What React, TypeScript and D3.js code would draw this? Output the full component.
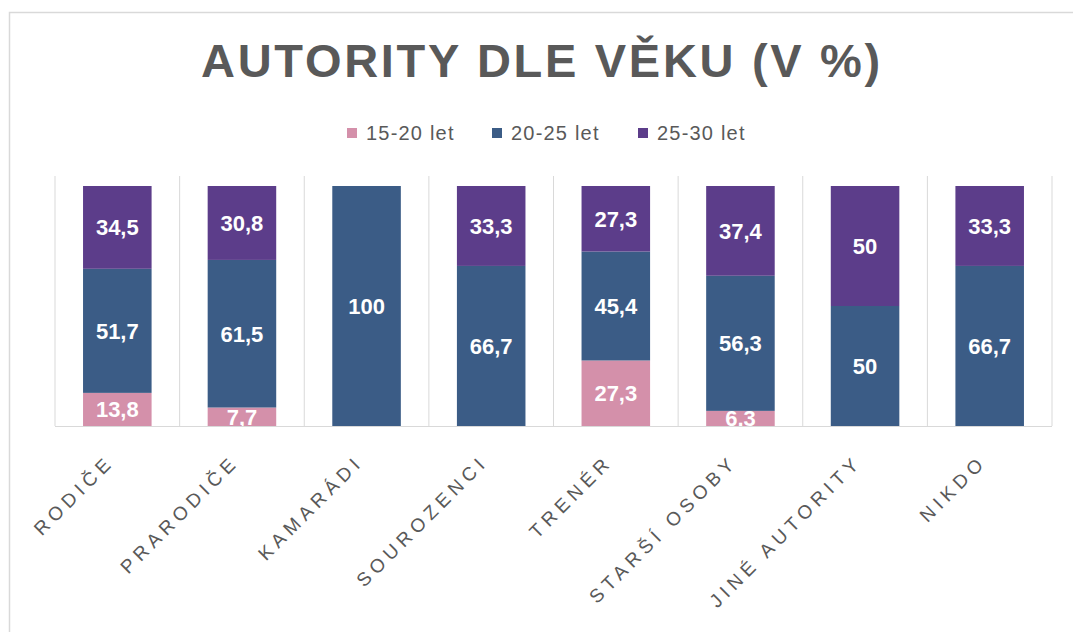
import React from "react";
import * as d3 from "d3";

const categories = ["RODIČE", "PRARODIČE", "KAMARÁDI", "SOUROZENCI", "TRENÉR", "STARŠÍ OSOBY", "JINÉ AUTORITY", "NIKDO"];
const seriesNames = ["15-20 let", "20-25 let", "25-30 let"];
const age15_20 = [13.8, 7.7, 0, 0, 27.3, 6.3, 0, 0];
const age20_25 = [51.7, 61.5, 100, 66.7, 45.4, 56.3, 50, 66.7];
const age25_30 = [34.5, 30.8, 0, 33.3, 27.3, 37.4, 50, 33.3];
const colors = ["#d490aa", "#3b5c86", "#5c3d8a"];
const title = "AUTORITY DLE VĚKU (V %)";

const W = 1073;
const H = 632;
const FONT = "'Liberation Sans', Arial, sans-serif";

export default function App() {
  const x = d3.scaleBand<string>().domain(categories).range([55, 1052]).paddingInner(0.45).paddingOuter(0.225);
  const y = d3.scaleLinear().domain([0, 100]).range([426, 186]);
  const rows = categories.map((c, i) => ({ cat: c, s0: age15_20[i], s1: age20_25[i], s2: age25_30[i] }));
  const stack = d3.stack<any>().keys(["s0", "s1", "s2"]);
  const layers = stack(rows);
  const fmt = (v: number) => String(v).replace(".", ",");
  const step = x.step();
  const x0 = x.range()[0];
  const legendX = [347, 492, 638];

  return (
    <svg width={W} height={H} style={{ position: "absolute", left: 0, top: 0, background: "#fff" }} fontFamily={FONT}>
      <defs>
        <clipPath id="plotclip">
          <rect x={40} y={170} width={1020} height={256} />
        </clipPath>
      </defs>
      <rect x={9.5} y={12.5} width={1080} height={640} fill="#fff" stroke="#d9d9d9" strokeWidth={1.5} />
      <text x={542} y={77} textAnchor="middle" fontSize={47} fontWeight="bold" fill="#595959" letterSpacing={2.7}>
        {title}
      </text>
      {seriesNames.map((s, i) => (
        <g key={s}>
          <rect x={legendX[i]} y={128} width={10} height={10} fill={colors[i]} />
          <text x={legendX[i] + 19} y={140} fontSize={20} fill="#595959" letterSpacing={1.2}>
            {s}
          </text>
        </g>
      ))}
      {d3.range(categories.length + 1).map((i) => (
        <line key={i} x1={x0 + i * step} x2={x0 + i * step} y1={176} y2={426} stroke="#d9d9d9" strokeWidth={1} />
      ))}
      <line x1={x0} x2={x0 + step * categories.length} y1={426.5} y2={426.5} stroke="#d9d9d9" strokeWidth={1.2} />
      {layers.map((layer, li) => (
        <g key={li} fill={colors[li]}>
          {layer.map((d: any, i: number) =>
            d[1] - d[0] > 0 ? (
              <rect key={i} x={x(categories[i])} width={x.bandwidth()} y={y(d[1])} height={y(d[0]) - y(d[1])} />
            ) : null
          )}
        </g>
      ))}
      <g clipPath="url(#plotclip)">
        {layers.map((layer, li) => (
          <g key={li}>
            {layer.map((d: any, i: number) => {
              const v = d[1] - d[0];
              if (v <= 0) return null;
              return (
                <text
                  key={i}
                  x={(x(categories[i]) as number) + x.bandwidth() / 2}
                  y={(y(d[0]) + y(d[1])) / 2 + 8}
                  textAnchor="middle"
                  fontSize={22}
                  fontWeight="bold"
                  fill="#ffffff"
                >
                  {fmt(Math.round(v * 10) / 10)}
                </text>
              );
            })}
          </g>
        ))}
      </g>
      {categories.map((c) => {
        const cx = (x(c) as number) + x.bandwidth() / 2;
        return (
          <text
            key={c}
            transform={`translate(${cx - 2},${463}) rotate(-45)`}
            textAnchor="end"
            fontSize={19}
            fill="#595959"
            letterSpacing={5}
          >
            {c}
          </text>
        );
      })}
    </svg>
  );
}
